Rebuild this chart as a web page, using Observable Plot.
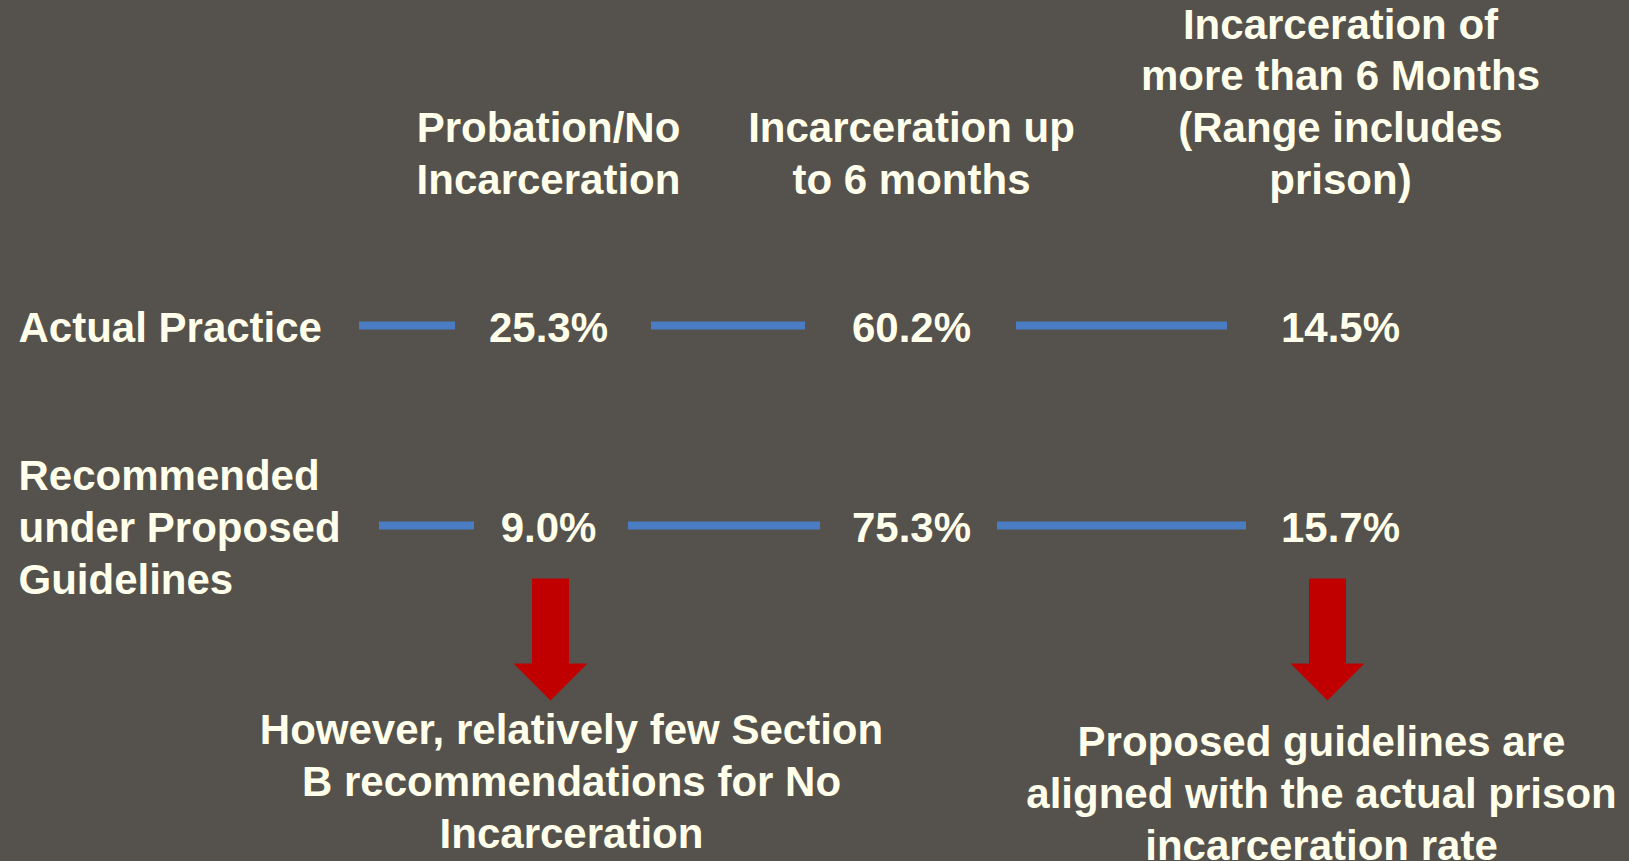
<!DOCTYPE html>
<html>
<head>
<meta charset="utf-8">
<script src="https://cdn.jsdelivr.net/npm/d3@7"></script>
<script src="https://cdn.jsdelivr.net/npm/@observablehq/plot@0.6"></script>
<style>
  html, body { margin: 0; padding: 0; background: #55524D; overflow: hidden; }
  #chart svg { display: block; }
</style>
</head>
<body>
<div id="chart"></div>
<script>
// ---- data ----
const columnHeaders = [
  "Probation/No\nIncarceration",
  "Incarceration up\nto 6 months",
  "Incarceration of\nmore than 6 Months\n(Range includes\nprison)"
];
const rowLabels = ["Actual Practice", "Recommended\nunder Proposed\nGuidelines"];
const actualPractice = [25.3, 60.2, 14.5];
const proposedGuidelines = [9.0, 75.3, 15.7];
const notes = [
  "However, relatively few Section\nB recommendations for No\nIncarceration",
  "Proposed guidelines are\naligned with the actual prison\nincarceration rate"
];
const noteColumns = [1, 3];

// ---- table built from the arrays ----
const series = [actualPractice, proposedGuidelines];
const cells = series.flatMap((vals, r) => vals.map((v, c) => ({row: r + 1, col: c + 1, value: v})));
const segments = series.flatMap((vals, r) => vals.map((v, c) => ({row: r + 1, from: c, to: c + 1, seg: c})));

// ---- styling ----
const textColor = "#FFFFEB";
const lineColor = "#4A7CC4";
const arrowColor = "#C00000";
const font = {fill: textColor, fontSize: 42, fontWeight: "bold", lineHeight: 1.23};
// connector insets (left, right) per row and segment
const connectorInsets = [
  [[341, 93], [103, 106], [105, 113]],
  [[361, 74], [80, 91], [86, 94]]
];

// block arrow symbol (shaft + head)
const blockArrow = {
  draw(ctx) {
    ctx.moveTo(-18.5, -61);
    ctx.lineTo(18.5, -61);
    ctx.lineTo(18.5, 24);
    ctx.lineTo(37, 24);
    ctx.lineTo(0, 61);
    ctx.lineTo(-37, 24);
    ctx.lineTo(-18.5, 24);
    ctx.closePath();
  }
};

const connectorMarks = segments.map(s =>
  Plot.ruleY([s], {
    x1: "from", x2: "to", y: "row",
    stroke: lineColor, strokeWidth: 8,
    insetLeft: connectorInsets[s.row - 1][s.seg][0],
    insetRight: connectorInsets[s.row - 1][s.seg][1]
  })
);

const chart = Plot.plot({
  width: 1629,
  height: 861,
  margin: 0,
  style: {background: "transparent", fontFamily: "'Liberation Sans', Arial, sans-serif", overflow: "visible"},
  x: {type: "linear", domain: [0, 1, 2, 3], range: [18, 548, 911, 1340], axis: null},
  y: {type: "linear", domain: [0, 1, 2, 3, 4], range: [193, 325, 525, 639, 779], axis: null},
  marks: [
    ...connectorMarks,
    Plot.text(columnHeaders, {x: (d, i) => i + 1, y: () => 0, text: d => d, lineAnchor: "bottom", ...font}),
    Plot.text(rowLabels, {x: () => 0, y: (d, i) => i + 1, text: d => d, textAnchor: "start", lineAnchor: "middle", ...font}),
    Plot.text(cells, {x: "col", y: "row", text: d => d.value.toFixed(1) + "%", lineAnchor: "middle", ...font}),
    Plot.dot([noteColumns[0]], {x: d => d, y: () => 3, symbol: blockArrow, fill: arrowColor, stroke: null, dx: 2}),
    Plot.dot([noteColumns[1]], {x: d => d, y: () => 3, symbol: blockArrow, fill: arrowColor, stroke: null, dx: -13}),
    Plot.text([notes[0]], {x: () => noteColumns[0], y: () => 4, text: d => d, lineAnchor: "middle", dx: 23, ...font}),
    Plot.text([notes[1]], {x: () => noteColumns[1], y: () => 4, text: d => d, lineAnchor: "middle", dx: -19, dy: 12, ...font})
  ]
});
document.getElementById("chart").append(chart);
</script>
</body>
</html>
